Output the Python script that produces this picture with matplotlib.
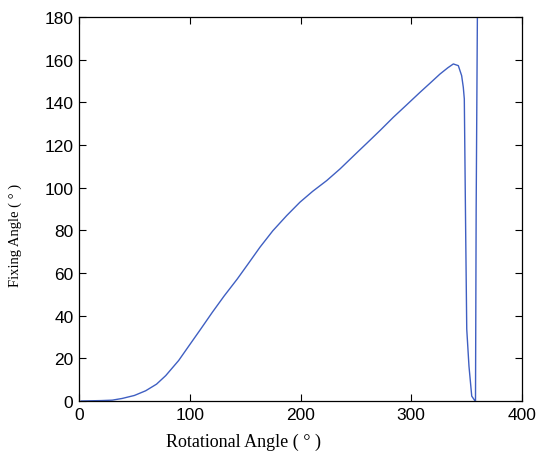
import numpy as np
import matplotlib.pyplot as plt

# rotational angle vs fixing angle
rot_angle = [2, 10, 20, 30, 39, 50, 60.2, 70, 78.3, 90, 99.3, 110, 120.4, 131, 142.9,
             153, 163.4, 175, 187.5, 199.5, 211, 223.6, 235.7, 250.7, 259.8, 272,
             283.8, 296, 307.9, 317, 326, 333, 338, 342.5, 345.5, 347.0, 347.9,
             349.2, 350.1, 352.1, 354.6, 357.6, 358.0, 358.6, 359.7]
fix_angle = [0, 0.1, 0.2, 0.4, 1.2, 2.6, 4.8, 7.9, 11.9, 19.0, 25.9, 33.8, 41.6, 49.2, 57.2,
             64.5, 72.1, 79.8, 86.9, 93.2, 98.3, 103.3, 108.8, 116.3, 120.8, 126.9,
             133.0, 138.9, 144.7, 149.0, 153.3, 156.2, 158.0, 157.2, 152.5, 147.0, 141.6,
             75.9, 33.7, 16.4, 2.3, 0, 0, 90, 180]

fig = plt.figure(figsize=(5.36, 4.56), dpi=100)
ax = fig.add_axes([0.1474, 0.1184, 0.8265, 0.8421])
ax.plot(rot_angle, fix_angle, color='#3f5fc2', linewidth=1.0)

ax.set_xlim(0, 400)
ax.set_ylim(0, 180)
ax.set_xticks(np.arange(0, 401, 100))
ax.set_yticks(np.arange(0, 181, 20))
ax.tick_params(direction='in', top=True, right=True, length=5, width=0.8,
               labelsize=12.5, pad=4)
for lbl in ax.get_xticklabels() + ax.get_yticklabels():
    lbl.set_fontfamily('Liberation Sans')
for s in ax.spines.values():
    s.set_linewidth(0.9)

ax.set_xlabel('Rotational Angle ( ° )', family='Liberation Serif', fontsize=13)
ax.set_ylabel('Fixing Angle ( ° )', family='Liberation Serif', fontsize=10.5)
# labels sit off-centre in the original
ax.xaxis.set_label_coords(0.372, -0.082)
ax.yaxis.set_label_coords(-0.128, 0.435)

fig.savefig('out.png', dpi=100)
